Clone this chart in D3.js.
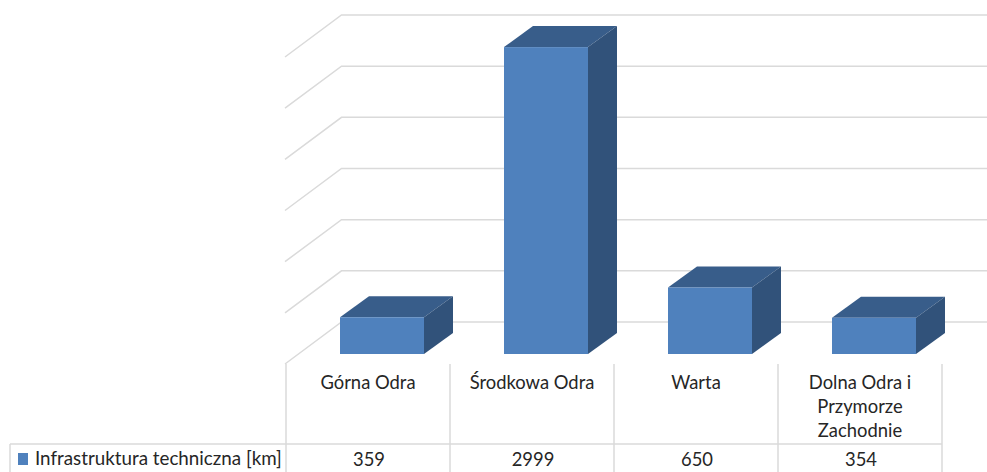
<!DOCTYPE html>
<html><head><meta charset="utf-8">
<script src="https://cdn.jsdelivr.net/npm/d3@7/dist/d3.min.js"></script>
<style>html,body{margin:0;padding:0;background:#fff}svg{display:block}text{font-family:Lato,"Open Sans",sans-serif;fill:#262626}</style>
</head><body><svg id="c" width="987" height="472"></svg>
<script>
const categories = ["Górna Odra","Środkowa Odra","Warta","Dolna Odra i|Przymorze|Zachodnie"];
const values = [359,2999,650,354];
const tickValues = [0,500,1000,1500,2000,2500,3000];
const seriesName = "Infrastruktura techniczna [km]";

const svg = d3.select("#c");
const x = d3.scaleBand().domain(categories).range([286,942]);
const y = d3.scaleLinear().domain([0,3000]).range([322,15]);
const grey = "#dadada";
const wallDx = 56.5, wallDy = 42, depthDx = 29, depthDy = 21;
const barInset = 54, barW = 84, barShift = 32;

// gridlines: side wall and back wall
svg.append("g").selectAll("path").data(tickValues).join("path")
  .attr("fill","none").attr("stroke",grey).attr("stroke-width",1.5)
  .attr("d",v=>`M${x.range()[0]-1},${y(v)+wallDy}L${x.range()[0]-1+wallDx},${y(v)}H987`);

// bars
const bars = svg.append("g").selectAll("g").data(categories).join("g");
const bx = c=>x(c)+barInset;
const top_ = (c,i)=>y(values[i])+barShift;
const base = y(0)+barShift;
bars.append("path").attr("fill","#385d8a")
  .attr("d",(c,i)=>`M${bx(c)},${top_(c,i)}l${depthDx},${-depthDy}h${barW}l${-depthDx},${depthDy}Z`);
bars.append("path").attr("fill","#31527a")
  .attr("d",(c,i)=>`M${bx(c)+barW},${top_(c,i)}l${depthDx},${-depthDy}V${base-depthDy}l${-depthDx},${depthDy}Z`);
bars.append("rect").attr("fill","#4f81bd")
  .attr("x",bx).attr("y",top_).attr("width",barW).attr("height",(c,i)=>base-top_(c,i));

// data table
const tableTop = 364, rowY = 444, bottom = 472, legendX = 10;
const t = svg.append("g").attr("stroke",grey).attr("stroke-width",1.5);
const edges = categories.map(c=>x(c)).concat(x.range()[1]);
t.selectAll("line.v").data(edges).join("line").attr("class","v")
  .attr("x1",d=>d).attr("x2",d=>d).attr("y1",tableTop).attr("y2",bottom);
t.append("line").attr("x1",legendX).attr("x2",x.range()[1]).attr("y1",rowY).attr("y2",rowY);
t.append("line").attr("x1",legendX).attr("x2",legendX).attr("y1",rowY).attr("y2",bottom);

const fs = 18.4;
const labels = svg.append("g").attr("text-anchor","middle").attr("font-size",fs);
labels.selectAll("text.cat").data(categories).join("text").attr("class","cat")
  .attr("x",c=>x(c)+x.bandwidth()/2).attr("y",389)
  .each(function(c){
    const el=d3.select(this), px=x(c)+x.bandwidth()/2;
    c.split("|").forEach((s,i)=>el.append("tspan").attr("x",px).attr("y",389+i*24).text(s));
  });
labels.selectAll("text.val").data(categories).join("text").attr("class","val")
  .attr("x",c=>x(c)+x.bandwidth()/2+1).attr("y",466).text((c,i)=>values[i]);
svg.append("rect").attr("x",18).attr("y",453).attr("width",10).attr("height",12).attr("fill","#4f81bd");
svg.append("text").attr("x",35).attr("y",465).attr("font-size",18.8).text(seriesName);
</script></body></html>
